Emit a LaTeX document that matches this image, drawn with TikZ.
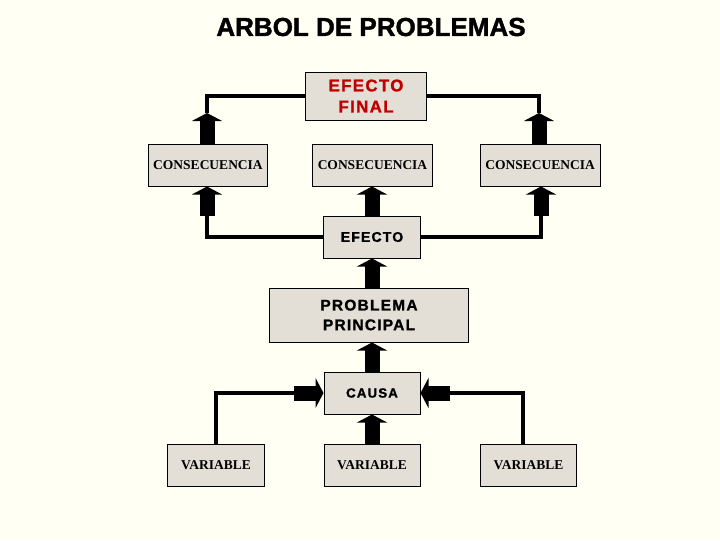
\documentclass[tikz,border=0pt]{standalone}
\usepackage{fontspec}
\setmainfont{Liberation Serif}
\newfontfamily\labelfont[LetterSpace=8, BoldFeatures={FakeBold=1.2}]{Liberation Sans}
\newfontfamily\titlefont[BoldFeatures={FakeBold=1.5}]{Liberation Sans}
\usetikzlibrary{positioning, calc, arrows.meta}
\definecolor{paper}{RGB}{255,255,243}
\definecolor{boxfill}{RGB}{228,223,214}
\definecolor{finalred}{RGB}{192,0,0}

\begin{document}
\begin{tikzpicture}[x=0.025cm, y=-0.025cm,
    box/.style={draw, fill=boxfill, line width=0.7pt, inner sep=0pt, align=center},
    serifbox/.style={box, minimum height=1.05cm, font=\bfseries\fontsize{9.6}{12}\selectfont},
    sansbox/.style={box, font=\labelfont\bfseries\fontsize{10}{14}\selectfont},
    wire/.style={line width=0.1cm},
    blockarrow/.style={line width=0.375cm, -{Triangle[width=0.75cm, length=0.2cm]}}]

    % --- Background and page size ---
    \fill[paper] (0,0) rectangle (720,540);
    \useasboundingbox (0,0) rectangle (720,540);

    % --- Title ---
    \node[font=\titlefont\bfseries\fontsize{18.5}{20}\selectfont] (title) at (371,27) {ARBOL DE PROBLEMAS};

    % --- Effects (top) ---
    \node[sansbox, text=finalred, minimum width=3cm, minimum height=1.2cm,
          font=\labelfont\bfseries\fontsize{12}{15}\selectfont] (final) at (366,96) {EFECTO\\FINAL};
    \node[serifbox, minimum width=2.95cm] (consL) at (208,165) {CONSECUENCIA};
    \node[serifbox, minimum width=2.975cm] (consM) at (372.5,165) {CONSECUENCIA};
    \node[serifbox, minimum width=3cm] (consR) at (540,165) {CONSECUENCIA};
    \node[sansbox, minimum width=2.425cm, minimum height=1.05cm] (efecto) at (372,237) {EFECTO};

    % --- Main problem ---
    \node[sansbox, minimum width=4.95cm, minimum height=1.35cm,
          font=\labelfont\bfseries\fontsize{11}{14}\selectfont] (prob) at (369,315) {PROBLEMA\\PRINCIPAL};

    % --- Causes (bottom) ---
    \node[sansbox, minimum width=2.4cm, minimum height=1.05cm,
          font=\labelfont\bfseries\fontsize{9.5}{12}\selectfont] (causa) at (372,393) {CAUSA};
    \node[serifbox, minimum width=2.4cm] (varL) at (216,465) {VARIABLE};
    \node[serifbox, minimum width=2.4cm] (varM) at (372,465) {VARIABLE};
    \node[serifbox, minimum width=2.4cm] (varR) at (528.5,465) {VARIABLE};

    % --- Consequences up to the final effect ---
    \coordinate (tipL) at (207,113);
    \coordinate (tipR) at (539,113);
    \draw[wire] (final.west) -| (tipL);
    \draw[wire] (final.east) -| (tipR);
    \draw[blockarrow] (consL.north -| tipL) -- (tipL);
    \draw[blockarrow] (consR.north -| tipR) -- (tipR);

    % --- Effect up to the consequences ---
    \coordinate (baseL) at (207,216);
    \coordinate (baseR) at (541,216);
    \draw[wire] (efecto.west) -| (baseL);
    \draw[wire] (efecto.east) -| (baseR);
    \draw[blockarrow] (baseL) -- (baseL |- consL.south);
    \draw[blockarrow] (baseR) -- (baseR |- consR.south);
    \draw[blockarrow] (efecto.north) -- (consM.south -| efecto.north);

    % --- Middle column ---
    \draw[blockarrow] (prob.north -| efecto.north) -- (efecto.south);
    \draw[blockarrow] (causa.north) -- (prob.south -| causa.north);
    \draw[blockarrow] (varM.north) -- (causa.south);

    % --- Side variables into the cause ---
    \coordinate (joinL) at (294,393);
    \coordinate (joinR) at (450,393);
    \draw[wire] (varL.north) |- (joinL);
    \draw[wire] ([xshift=-0.15cm]varR.north) |- (joinR);
    \draw[blockarrow] (joinL) -- (causa.west);
    \draw[blockarrow] (joinR) -- (causa.east);

\end{tikzpicture}
\end{document}
